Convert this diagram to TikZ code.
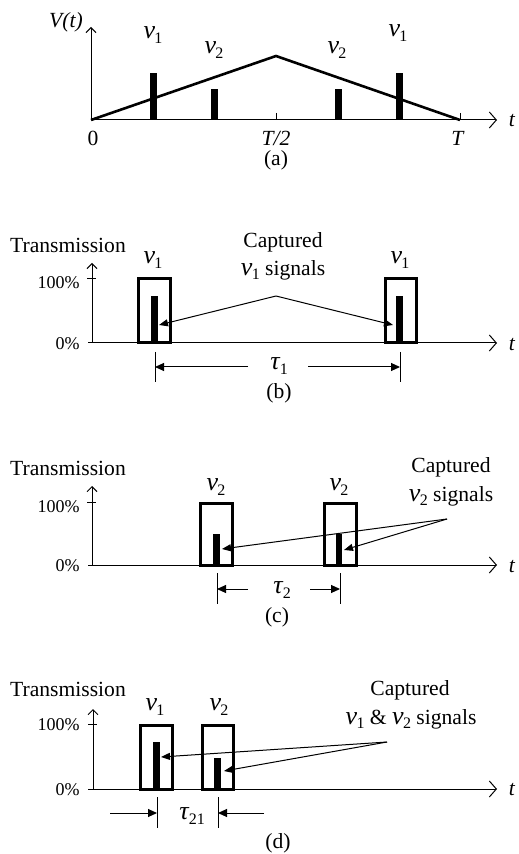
\documentclass[tikz,border=0pt]{standalone}
\usepackage{fontspec}
\setmainfont{Liberation Serif}
\usetikzlibrary{arrows.meta}
\newcommand\grk[2]{{\fontsize{13}{14}\selectfont\textit{#1}}\kern-0.3pt\raisebox{-2.2pt}{\fontsize{8}{9}\selectfont #2}}
\begin{document}
\begin{tikzpicture}[x=0.5pt,y=-0.5pt,
  txt/.style={font=\fontsize{10.8}{12}\selectfont, inner sep=0pt},
  pct/.style={font=\fontsize{9}{10}\selectfont, inner sep=0pt, anchor=east},
  axis/.style={line width=0.5pt},
  xaxis/.style={axis, -{Straight Barb[length=3.5pt,width=8pt]}},
  yaxis/.style={axis, -{Straight Barb[length=2.5pt,width=5pt]}},
  bar/.style={fill=black, draw=none},
  win/.style={draw, line width=1.5pt},
  ptr/.style={line width=0.5pt, -{Triangle[length=4.5pt,width=3.5pt]}},
  dimarr/.style={line width=0.5pt, -{Triangle[length=4.5pt,width=4pt]}},
  tickln/.style={line width=0.5pt},
]
\useasboundingbox (0,0) rectangle (518,854);

% ---------------- (a) ----------------
\coordinate (a0) at (91,120);
\coordinate (ay) at (91,27);
\coordinate (ax) at (497,120);
\coordinate (apk) at (276,56);
\coordinate (aT) at (460,120);
\fill[bar] (150,73) rectangle (157,120);
\fill[bar] (211,89) rectangle (218,120);
\fill[bar] (335,89) rectangle (342,120);
\fill[bar] (396,73) rectangle (403,120);
\draw[line width=1.3pt, line join=miter] (a0) -- (apk) -- (aT);
\draw[yaxis] (a0) -- (ay);
\draw[xaxis] (a0) -- (ax);
\draw[tickln] (276,113) -- (276,120);
\draw[tickln] (460,113) -- (460,120);
\node[txt] (aVt) at (66,22) {\textit{V(t)}};
\node[txt] (at) at (512,121) {\textit{t}};
\node[txt] (a0l) at (93,138) {0};
\node[txt] (aT2l) at (276,138) {\textit{T/2}};
\node[txt] (aTl) at (458,138) {\textit{T}};
\node[txt] (acap) at (276,160) {(a)};
\node[txt] (an1a) at (153,35) {\grk{ν}{1}};
\node[txt] (an2a) at (214,50) {\grk{ν}{2}};
\node[txt] (an2b) at (337,50) {\grk{ν}{2}};
\node[txt] (an1b) at (398,33) {\grk{ν}{1}};

% ---------------- (b) ----------------
\node[txt] (btr) at (68,245) {Transmission};
\node[txt] (bn1a) at (153,260) {\grk{ν}{1}};
\node[txt] (bn1b) at (400,260) {\grk{ν}{1}};
\node[txt] (bcapt) at (283,242) {Captured};
\node[txt] (bsig) at (283,270) {\grk{ν}{1} signals};
\node[pct] (b100) at (80,283) {100\%};
\node[pct] (b0) at (80,344) {0\%};
\coordinate (b0o) at (92,343);
\draw[yaxis] (b0o) -- (92,263);
\draw[axis] (87,279) -- (96,279);
\draw[xaxis] (88,343) -- (497,343);
\node[txt] (bt) at (512,345) {\textit{t}};
\draw[win] (138,279) rectangle (170,343);
\fill[bar] (151,296) rectangle (158,343);
\draw[win] (385,279) rectangle (416,343);
\fill[bar] (396,296) rectangle (403,343);
\coordinate (bpk) at (276,296);
\coordinate (bl) at (159,325);
\coordinate (br) at (393,325);
\draw[ptr] (bpk) -- (bl);
\draw[ptr] (bpk) -- (br);
\coordinate (bt1) at (155,352);
\coordinate (bt2) at (400,352);
\draw[tickln] (bt1) -- (155,382);
\draw[tickln] (bt2) -- (400,382);
\node[txt] (btau) at (279,366) {\grk{τ}{1}};
\coordinate (bta) at (155,367);
\coordinate (btb) at (400,367);
\draw[dimarr] (248,367) -- (bta);
\draw[dimarr] (308,367) -- (btb);
\node[txt] (bcap) at (279,393) {(b)};

% ---------------- (c) ----------------
\node[txt] (ctr) at (68,468) {Transmission};
\node[txt] (cn2a) at (216,487) {\grk{ν}{2}};
\node[txt] (cn2b) at (339,487) {\grk{ν}{2}};
\node[txt] (ccapt) at (451,467) {Captured};
\node[txt] (csig) at (451,496) {\grk{ν}{2} signals};
\node[pct] (c100) at (80,507) {100\%};
\node[pct] (c0) at (80,566) {0\%};
\draw[yaxis] (92,565) -- (92,486);
\draw[axis] (87,502) -- (96,502);
\draw[xaxis] (88,565) -- (497,565);
\node[txt] (ct) at (512,567) {\textit{t}};
\draw[win] (200,503) rectangle (232,565);
\fill[bar] (213,534) rectangle (220,565);
\draw[win] (324,503) rectangle (356,565);
\fill[bar] (336,534) rectangle (342,565);
\coordinate (cpk) at (447,519);
\coordinate (cl) at (222,549);
\coordinate (cr) at (344,550);
\draw[ptr] (cpk) -- (cl);
\draw[ptr] (cpk) -- (cr);
\draw[tickln] (217,573) -- (217,604);
\draw[tickln] (340,573) -- (340,604);
\node[txt] (ctau) at (282,590) {\grk{τ}{2}};
\coordinate (cta) at (217,589);
\coordinate (ctb) at (340,589);
\draw[dimarr] (248,589) -- (cta);
\draw[dimarr] (310,589) -- (ctb);
\node[txt] (ccap) at (277,617) {(c)};

% ---------------- (d) ----------------
\node[txt] (dtr) at (68,689) {Transmission};
\node[txt] (dn1) at (155,707) {\grk{ν}{1}};
\node[txt] (dn2) at (219,707) {\grk{ν}{2}};
\node[txt] (dcapt) at (410,690) {Captured};
\node[txt] (dsig) at (411,719) {\grk{ν}{1} \& \grk{ν}{2} signals};
\node[pct] (d100) at (80,725) {100\%};
\node[pct] (d0) at (80,790) {0\%};
\draw[yaxis] (93,789) -- (93,709);
\draw[axis] (88,724) -- (97,724);
\draw[xaxis] (88,789) -- (497,789);
\node[txt] (dt) at (512,790) {\textit{t}};
\draw[win] (140,725) rectangle (172,789);
\fill[bar] (153,742) rectangle (160,789);
\draw[win] (202,725) rectangle (233,789);
\fill[bar] (214,758) rectangle (221,789);
\coordinate (dpk) at (387,742);
\coordinate (dl) at (161,757);
\coordinate (dr) at (224,771);
\draw[ptr] (dpk) -- (dl);
\draw[ptr] (dpk) -- (dr);
\draw[tickln] (157,797) -- (157,828);
\draw[tickln] (218,797) -- (218,828);
\node[txt] (dtau) at (192,816) {\grk{τ}{21}};
\coordinate (dta) at (157,813);
\coordinate (dtb) at (218,813);
\draw[dimarr] (110,813) -- (dta);
\draw[dimarr] (264,813) -- (dtb);
\node[txt] (dcap) at (278,843) {(d)};
\end{tikzpicture}
\end{document}
